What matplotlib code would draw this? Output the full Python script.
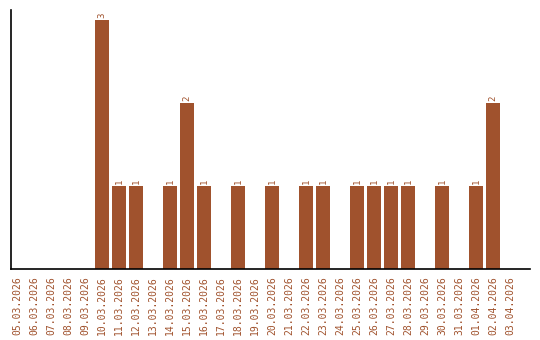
import matplotlib
matplotlib.use("Agg")
import matplotlib.pyplot as plt
import numpy as np

dates = ["05.03.2026", "06.03.2026", "07.03.2026", "08.03.2026", "09.03.2026",
         "10.03.2026", "11.03.2026", "12.03.2026", "13.03.2026", "14.03.2026",
         "15.03.2026", "16.03.2026", "17.03.2026", "18.03.2026", "19.03.2026",
         "20.03.2026", "21.03.2026", "22.03.2026", "23.03.2026", "24.03.2026",
         "25.03.2026", "26.03.2026", "27.03.2026", "28.03.2026", "29.03.2026",
         "30.03.2026", "31.03.2026", "01.04.2026", "02.04.2026", "03.04.2026"]
counts = [0, 0, 0, 0, 0,
          3, 1, 1, 0, 1,
          2, 1, 0, 1, 0,
          1, 0, 1, 1, 0,
          1, 1, 1, 1, 0,
          1, 0, 1, 2, 0]

color = "#A0522D"
fig = plt.figure(figsize=(5.4, 3.4), dpi=100)
ax = fig.add_axes([0.0204, 0.209, 0.961, 0.762])
x = np.arange(len(dates))
ax.bar(x, counts, width=0.82, color=color)
for xi, v in zip(x, counts):
    if v > 0:
        ax.text(xi, v + 0.02, str(v), rotation=90, ha="center", va="bottom",
                fontsize=6.5, color=color, family="DejaVu Sans Mono")
ax.set_xlim(-0.353, 30.18)
ax.set_ylim(0, 3.12)
ax.set_xticks(x)
ax.set_xticklabels(dates, rotation=90, fontsize=7, color=color, family="DejaVu Sans Mono")
ax.tick_params(axis="x", length=0, pad=5)
ax.set_yticks([])
ax.spines["top"].set_visible(False)
ax.spines["right"].set_visible(False)
for s in ("left", "bottom"):
    ax.spines[s].set_linewidth(1.2)
fig.savefig("out.png", dpi=100)
